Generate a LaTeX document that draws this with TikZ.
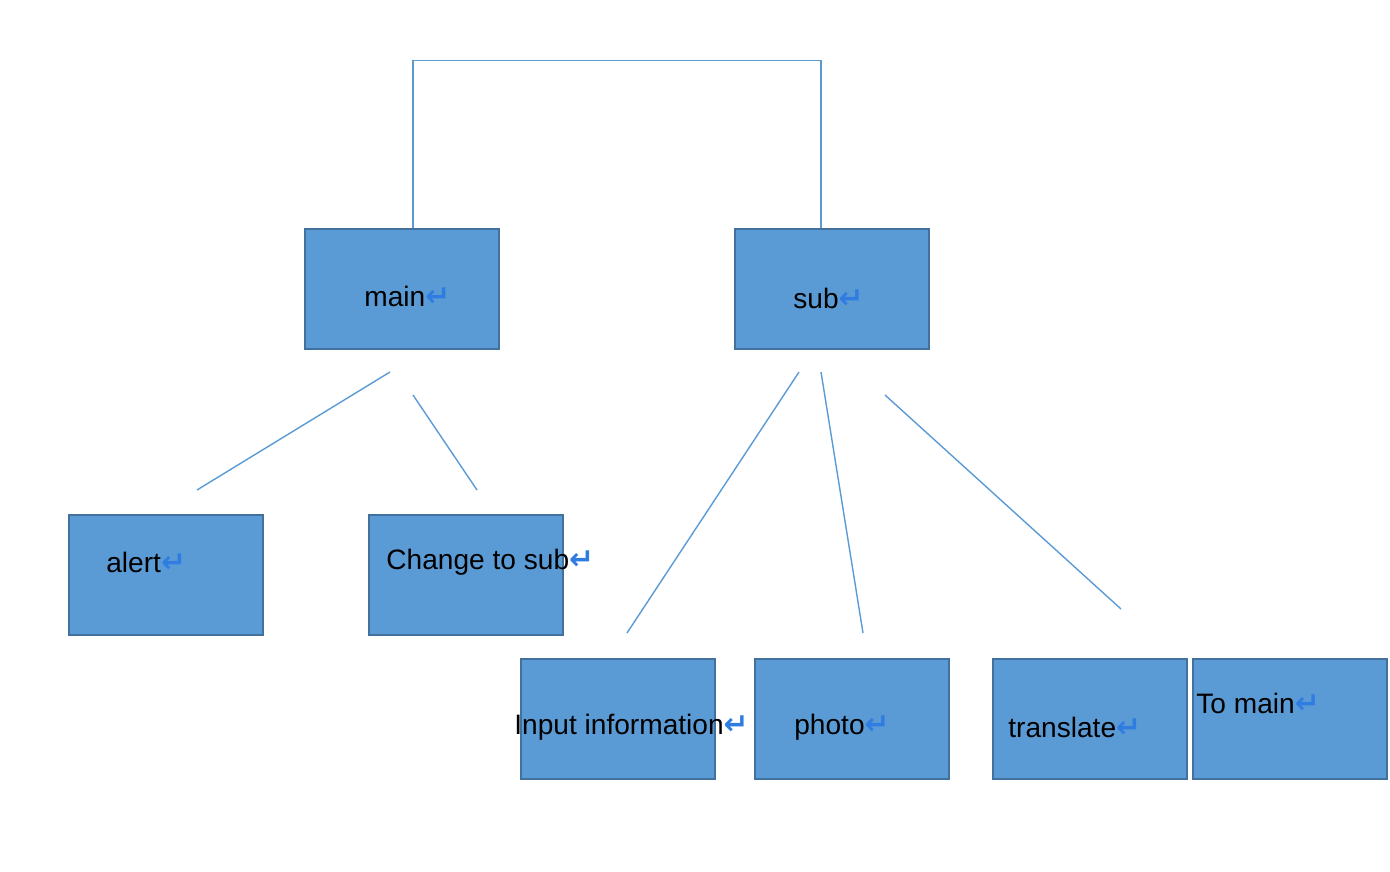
\documentclass[tikz,border=0pt]{standalone}
\usepackage{fontspec}
\setmainfont{Liberation Sans}
\newfontfamily\retfont{DejaVu Sans Bold}
\definecolor{boxfill}{HTML}{5B9BD5}
\definecolor{boxline}{HTML}{41719C}
\definecolor{retblue}{HTML}{2F7DE1}
\newcommand{\ret}{{\retfont\color{retblue}\fontsize{17pt}{17pt}\selectfont ↵}}

\begin{document}
\begin{tikzpicture}[x=0.02cm, y=-0.02cm,
    module/.style={rectangle, draw=boxline, fill=boxfill, line width=0.8pt,
                   minimum width=3.88cm, minimum height=2.4cm},
    label/.style={anchor=west, inner sep=0pt, font=\fontsize{16pt}{19pt}\selectfont},
    link/.style={draw=boxfill, line width=0.8pt}]
            \useasboundingbox (0,0) rectangle (1390,872);

            % boxes
            \node[module] (main) at (402,289) {};
            \node[module] (sub) at (832,289) {};
            \node[module] (alert) at (166,575) {};
            \node[module] (change) at (466,575) {};
            \node[module] (input) at (618,719) {};
            \node[module] (photo) at (852,719) {};
            \node[module] (trans) at (1090,719) {};
            \node[module] (tomain) at (1290,719) {};

            % texts
            \node[label] (tmain) at (364,296) {main\ret};
            \node[label] (tsub) at (793,298) {sub\ret};
            \node[label] (talert) at (106,562) {alert\ret};
            \node[label] (tchange) at (386,562) {Change to sub\ret};
            \node[label] (tinput) at (514,727) {Input information\ret};
            \node[label] (tphoto) at (794,727) {photo\ret};
            \node[label] (ttrans) at (1008,727) {translate\ret};
            \node[label] (ttomain) at (1196,703) {To main\ret};

            % free line ends
            \coordinate (m1) at (390,372);
            \coordinate (m2) at (413,395);
            \coordinate (a1) at (197,490);
            \coordinate (c1) at (477,490);
            \coordinate (s1) at (799,372);
            \coordinate (s2) at (821,372);
            \coordinate (s3) at (885,395);
            \coordinate (i1) at (627,633);
            \coordinate (p1) at (863,633);
            \coordinate (t1) at (1121,609);

            \draw[link] ([xshift=0.22cm]main.north) -- ++(0,-168) -| ([xshift=-0.22cm]sub.north);
            \draw[link] (m1) -- (a1);
            \draw[link] (m2) -- (c1);
            \draw[link] (s1) -- (i1);
            \draw[link] (s2) -- (p1);
            \draw[link] (s3) -- (t1);
        \end{tikzpicture}
\end{document}
